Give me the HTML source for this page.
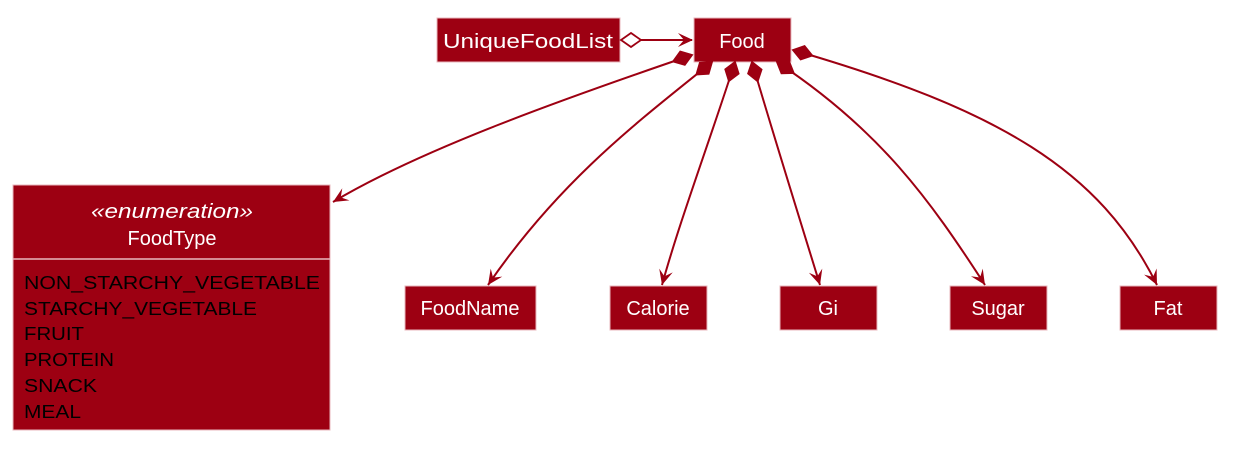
<!DOCTYPE html>
<html><head><meta charset="utf-8"><style>
body{margin:0;background:#fff;}
svg{display:block;font-family:"Liberation Sans",sans-serif;}
</style></head><body>
<svg id="d" width="1238" height="451" viewBox="0 0 1238 451">
<g>
<rect x="437" y="18" width="183" height="44" fill="#9d0012" stroke="#e8b7bd" stroke-width="1"/>
<text x="528" y="48" fill="#fff" font-size="20" text-anchor="middle" textLength="170" lengthAdjust="spacingAndGlyphs">UniqueFoodList</text></g>
<g>
<rect x="694" y="18" width="97" height="44" fill="#9d0012" stroke="#e8b7bd"/>
<text x="742" y="48" fill="#fff" font-size="20" text-anchor="middle">Food</text></g>
<g>
<rect x="13" y="185" width="317" height="245" fill="#9d0012" stroke="#e8b7bd"/>
<line x1="13" y1="259" x2="330" y2="259" stroke="#e8b7bd" stroke-width="1.5"/>
<text x="172" y="218" fill="#fff" font-size="20" font-style="italic" text-anchor="middle" textLength="162" lengthAdjust="spacingAndGlyphs">«enumeration»</text>
<text x="172" y="245" fill="#fff" font-size="20" text-anchor="middle">FoodType</text>
<g font-size="18" fill="#000">
<text x="24" y="289" textLength="296" lengthAdjust="spacingAndGlyphs">NON_STARCHY_VEGETABLE</text>
<text x="24" y="315" textLength="233" lengthAdjust="spacingAndGlyphs">STARCHY_VEGETABLE</text>
<text x="24" y="340" textLength="60" lengthAdjust="spacingAndGlyphs">FRUIT</text>
<text x="24" y="366" textLength="90" lengthAdjust="spacingAndGlyphs">PROTEIN</text>
<text x="24" y="392" textLength="73" lengthAdjust="spacingAndGlyphs">SNACK</text>
<text x="24" y="418" textLength="57" lengthAdjust="spacingAndGlyphs">MEAL</text></g></g>
<g><rect x="405" y="286" width="131" height="44" fill="#9d0012" stroke="#e8b7bd"/><text x="470" y="315" fill="#fff" font-size="20" text-anchor="middle">FoodName</text></g>
<g><rect x="610" y="286" width="97" height="44" fill="#9d0012" stroke="#e8b7bd"/><text x="658" y="315" fill="#fff" font-size="20" text-anchor="middle">Calorie</text></g>
<g><rect x="780" y="286" width="97" height="44" fill="#9d0012" stroke="#e8b7bd"/><text x="828" y="315" fill="#fff" font-size="20" text-anchor="middle">Gi</text></g>
<g><rect x="950" y="286" width="97" height="44" fill="#9d0012" stroke="#e8b7bd"/><text x="998" y="315" fill="#fff" font-size="20" text-anchor="middle">Sugar</text></g>
<g><rect x="1120" y="286" width="97" height="44" fill="#9d0012" stroke="#e8b7bd"/><text x="1168" y="315" fill="#fff" font-size="20" text-anchor="middle">Fat</text></g>
<g id="edges"></g>
</svg>
<script>
const C='#9d0012';
const edgeNames=['food-to-foodtype','food-to-foodname','food-to-calorie','food-to-gi','food-to-sugar','food-to-fat'];
const edgeGeom=[
 [[692,55],[560,100],[420,150],[333,202]],
 [[712,62],[640,120],[560,180],[488,285]],
 [[735,62],[710,140],[680,220],[662,285]],
 [[752,62],[775,140],[800,220],[820,285]],
 [[777,62],[880,130],[930,200],[985,285]],
 [[793,50],[1000,110],[1100,170],[1157,285]]
];
const g=document.getElementById('edges');
const NS='http://www.w3.org/2000/svg';
function diamond(p,q,fill){
 const dx=q[0]-p[0],dy=q[1]-p[1],L=Math.hypot(dx,dy),ux=dx/L,uy=dy/L,nx=-uy,ny=ux;
 const pts=[p,[p[0]+ux*10+nx*7,p[1]+uy*10+ny*7],[p[0]+ux*20,p[1]+uy*20],[p[0]+ux*10-nx*7,p[1]+uy*10-ny*7]];
 const e=document.createElementNS(NS,'polygon');
 e.setAttribute('points',pts.map(a=>a.join(',')).join(' '));
 e.setAttribute('fill',fill);e.setAttribute('stroke',C);e.setAttribute('stroke-width','1.8');
 return e;}
function arrow(p,q){
 const dx=p[0]-q[0],dy=p[1]-q[1],L=Math.hypot(dx,dy),ux=dx/L,uy=dy/L,nx=-uy,ny=ux;
 const pts=[p,[p[0]-ux*15+nx*7,p[1]-uy*15+ny*7],[p[0]-ux*9,p[1]-uy*9],[p[0]-ux*15-nx*7,p[1]-uy*15-ny*7]];
 const e=document.createElementNS(NS,'polygon');
 e.setAttribute('points',pts.map(a=>a.join(',')).join(' '));
 e.setAttribute('fill',C);
 return e;}
edgeGeom.forEach((c,i)=>{
 const grp=document.createElementNS(NS,'g');
 
 
 const path=document.createElementNS(NS,'path');
 path.setAttribute('d',`M${c[0]} C${c[1]} ${c[2]} ${c[3]}`);
 path.setAttribute('fill','none');path.setAttribute('stroke',C);path.setAttribute('stroke-width','2');
 grp.appendChild(path);
 grp.appendChild(diamond(c[0],c[1],C));
 grp.appendChild(arrow(c[3],c[2]));
 g.appendChild(grp);
});
const ag=document.createElementNS(NS,'g');


const ln=document.createElementNS(NS,'line');
ln.setAttribute('x1','640');ln.setAttribute('y1','40');ln.setAttribute('x2','692');ln.setAttribute('y2','40');
ln.setAttribute('stroke',C);ln.setAttribute('stroke-width','2');
ag.appendChild(ln);
ag.appendChild(diamond([621,40],[700,40],'#fff'));
ag.appendChild(arrow([693,40],[600,40]));
g.appendChild(ag);
</script>
</body></html>
